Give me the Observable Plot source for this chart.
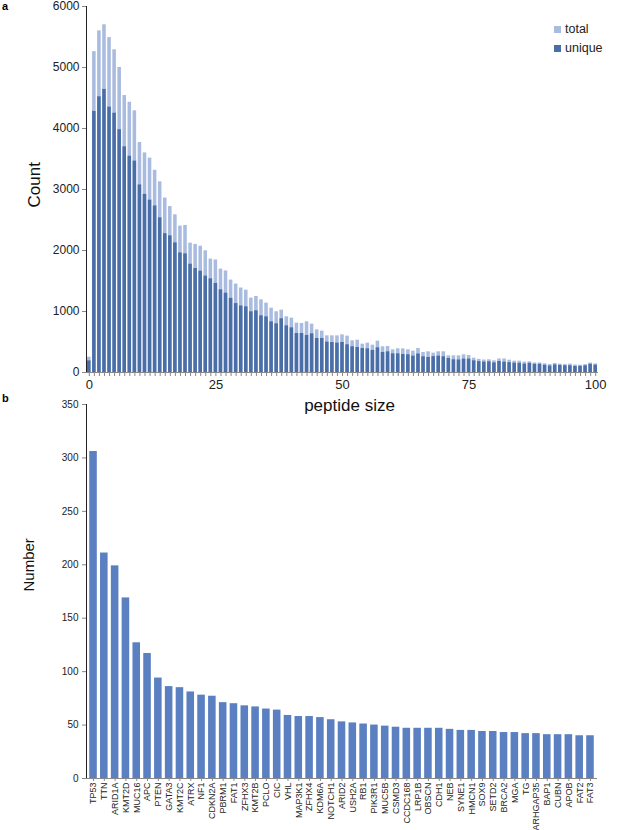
<!DOCTYPE html>
<html><head><meta charset="utf-8">
<script src="https://cdn.jsdelivr.net/npm/d3@7"></script>
<script src="https://cdn.jsdelivr.net/npm/@observablehq/plot@0.6"></script>
<style>
body{margin:0;background:#fff;font-family:"Liberation Sans",Arial,sans-serif;}
#wrap{position:relative;width:625px;height:830px;overflow:hidden;background:#fff;}
.panel{position:absolute;left:0;}
.tag{position:absolute;font-weight:bold;font-size:11px;color:#000;}
.legend{position:absolute;left:554px;top:20px;font-size:12.5px;line-height:19px;color:#222;}
.legend .sw{display:inline-block;width:7px;height:7px;margin-right:4px;vertical-align:0px;}
</style></head><body>
<div id="wrap">
  <div id="pa" class="panel" style="top:0"></div>
  <div id="pb" class="panel" style="top:380px"></div>
  <div class="tag" style="left:2px;top:0px">a</div>
  <div class="tag" style="left:2px;top:392px">b</div>
  <div class="legend">
    <div><span class="sw" style="background:#a9bbdf"></span>total</div>
    <div><span class="sw" style="background:#4a6ea8"></span>unique</div>
  </div>
</div>
<script>
const peptideSize = [0,1,2,3,4,5,6,7,8,9,10,11,12,13,14,15,16,17,18,19,20,21,22,23,24,25,26,27,28,29,30,31,32,33,34,35,36,37,38,39,40,41,42,43,44,45,46,47,48,49,50,51,52,53,54,55,56,57,58,59,60,61,62,63,64,65,66,67,68,69,70,71,72,73,74,75,76,77,78,79,80,81,82,83,84,85,86,87,88,89,90,91,92,93,94,95,96,97,98,99,100];
const totalCount = [250,5260,5600,5700,5490,5290,5000,4540,4430,4290,3770,3600,3515,3315,3125,2860,2720,2585,2400,2410,2120,2100,2070,1995,1860,1845,1695,1665,1515,1450,1385,1350,1219,1246,1191,1137,1055,995,1022,913,891,809,803,831,793,699,678,601,601,601,617,596,519,530,464,481,448,514,421,426,372,388,388,372,350,393,328,339,317,339,339,273,273,273,290,279,235,216,205,208,192,222,222,202,186,186,170,175,156,156,143,131,148,137,132,137,123,120,128,155,140];
const uniqueCount = [190,4280,4520,4640,4350,4250,3980,3700,3545,3465,3075,2920,2825,2730,2535,2275,2240,2125,1960,1945,1775,1705,1660,1580,1535,1460,1355,1300,1215,1130,1090,1076,995,1011,929,912,830,798,880,765,732,639,639,607,634,557,557,497,492,481,492,454,421,410,393,388,361,404,328,339,306,306,295,290,268,303,257,246,260,268,257,229,208,205,219,219,191,178,170,175,158,180,169,161,153,150,137,150,134,134,118,106,123,115,110,110,99,101,110,134,120];
const xTickLabels = [0,25,50,75,100];
const yTicksA = [0,1000,2000,3000,4000,5000,6000];

const genes = ["TP53","TTN","ARID1A","KMT2D","MUC16","APC","PTEN","GATA3","KMT2C","ATRX","NF1","CDKN2A","PBRM1","FAT1","ZFHX3","KMT2B","PCLO","CIC","VHL","MAP3K1","ZFHX4","KDM6A","NOTCH1","ARID2","USH2A","RB1","PIK3R1","MUC5B","CSMD3","CCDC168","LRP1B","OBSCN","CDH1","NEB","SYNE1","HMCN1","SOX9","SETD2","BRCA2","MGA","TG","ARHGAP35","BAP1","CUBN","APOB","FAT2","FAT3"];
const geneCount = [306,211,199,169,127,117,94,86,85,81,78,77,71,70,68,67,65,64,59,58,58,57,55,53,52,51,50,49,48,47,47,47,47,46,45,45,44,44,43,43,42,42,41,41,41,40,40];
const yTicksB = [0,50,100,150,200,250,300,350];

const font = '"Liberation Sans",Arial,sans-serif';
const dataA = peptideSize.map((s,i)=>({size:s,total:totalCount[i],unique:uniqueCount[i]}));
const dataB = genes.map((g,i)=>({gene:g,count:geneCount[i]}));

const chartA = Plot.plot({
  width:625, height:415,
  marginLeft:86, marginRight:27, marginTop:6, marginBottom:43,
  style:{fontFamily:font, fontSize:"12px", color:"#222", background:"transparent", overflow:"visible"},
  x:{type:"band", domain:peptideSize, paddingInner:0.3, paddingOuter:0.2, round:false,
     tickSize:4, tickPadding:3, label:null,
     tickFormat:d => xTickLabels.includes(d) ? String(d) : ""},
  y:{domain:[0,6000], ticks:yTicksA, tickFormat:d => String(d), tickSize:4, tickPadding:3, label:null, line:true},
  marks:[
    Plot.barY(dataA,{x:"size", y:"total", fill:"#a9bbdf"}),
    Plot.barY(dataA,{x:"size", y:"unique", fill:"#4a6ea8"}),
    Plot.ruleY([0],{stroke:"#888"}),
    Plot.text(["Count"],{frameAnchor:"left", dx:-52, dy:18, rotate:-90, fontSize:17, fill:"#111"}),
    Plot.text(["peptide size"],{frameAnchor:"bottom", dx:7, dy:38, fontSize:17, fill:"#111"})
  ]
});
d3.select(chartA).selectAll("[aria-label='x-axis tick label'] text").attr("font-size", 13);
document.getElementById("pa").appendChild(chartA);

const chartB = Plot.plot({
  width:625, height:450,
  marginLeft:86, marginRight:28, marginTop:24, marginBottom:52,
  style:{fontFamily:font, fontSize:"10px", color:"#222", background:"transparent", overflow:"visible"},
  x:{domain:genes, padding:0.3, round:false, tickRotate:-90, tickSize:3, tickPadding:1, label:null},
  y:{domain:[0,350], ticks:yTicksB, tickSize:4, tickPadding:4, label:null, line:true},
  marks:[
    Plot.barY(dataB,{x:"gene", y:"count", fill:"#5b80c2"}),
    Plot.ruleY([0],{stroke:"#888"}),
    Plot.text(["Number"],{frameAnchor:"left", dx:-57, rotate:-90, fontSize:15, fill:"#111"})
  ]
});
d3.select(chartB).selectAll("[aria-label='x-axis tick label'] text").attr("font-size", 9);
document.getElementById("pb").appendChild(chartB);

d3.selectAll("svg [aria-label='y-axis tick'], svg [aria-label='x-axis tick']").attr("stroke","#888");
</script>
</body></html>
